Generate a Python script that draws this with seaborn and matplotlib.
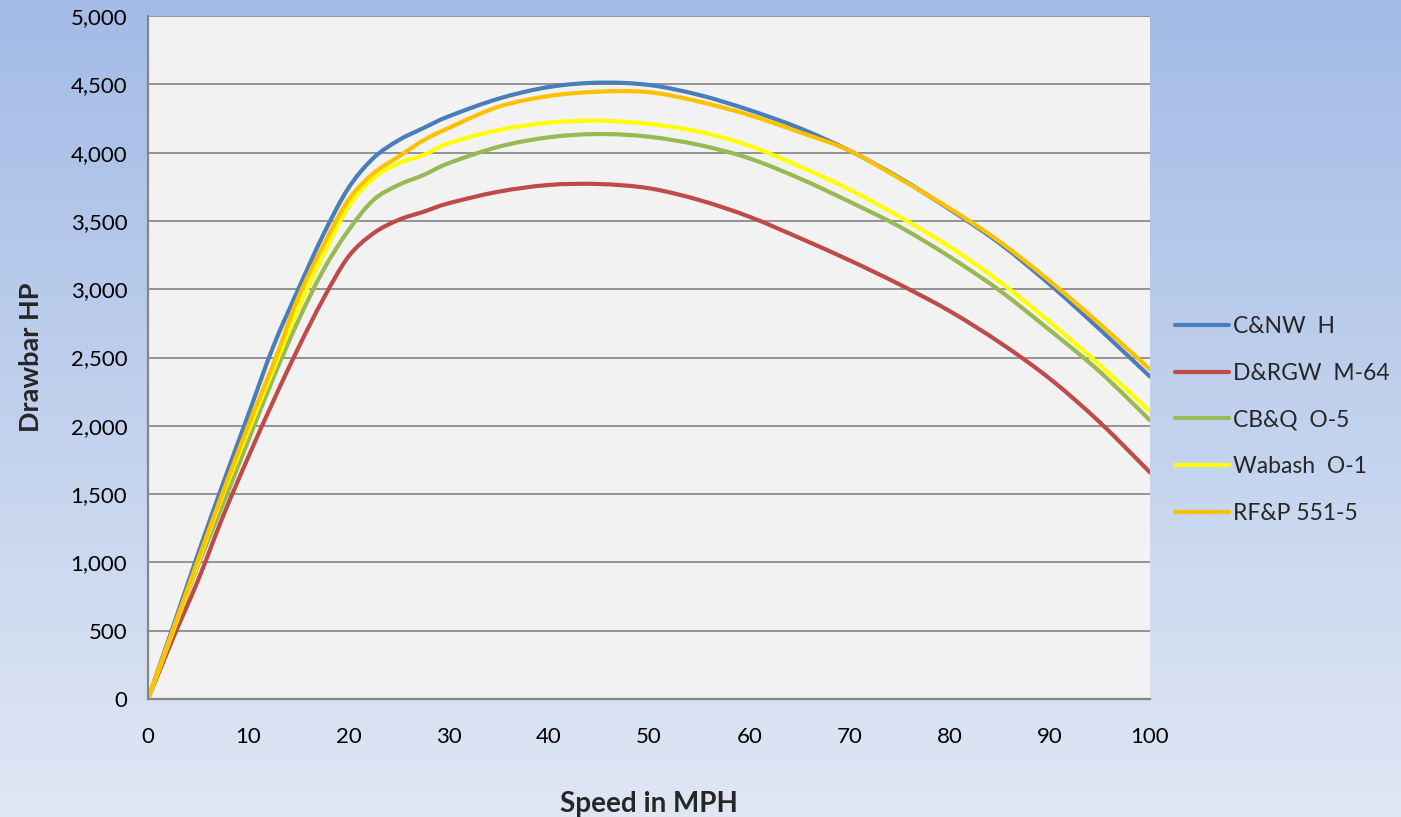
import numpy as np
import pandas as pd
import matplotlib
matplotlib.use("Agg")
import matplotlib.pyplot as plt
import matplotlib.ticker as mticker
from matplotlib.path import Path
from matplotlib.patches import PathPatch
import seaborn as sns

# ---- data ----
speed = [0, 2.5, 5, 7.5, 10, 12.5, 15, 17.5, 20, 22.5, 25, 27.5, 30, 35, 40,
         45, 50, 55, 60, 65, 70, 75, 80, 85, 90, 95, 100]

cnw_h = [0, 530, 1065, 1580, 2080, 2580, 3000, 3400, 3740, 3960, 4090, 4180, 4265,
         4395, 4480, 4512, 4495, 4422, 4312, 4180, 4015, 3815, 3585, 3335, 3035, 2705, 2360]
drgw_m64 = [0, 445, 870, 1340, 1770, 2180, 2570, 2930, 3238, 3409, 3507, 3567, 3629,
            3714, 3763, 3770, 3739, 3653, 3531, 3376, 3212, 3035, 2840, 2610, 2345, 2025, 1659]
cbq_o5 = [0, 490, 980, 1430, 1890, 2350, 2770, 3140, 3430, 3653, 3763, 3836, 3922,
          4043, 4112, 4136, 4116, 4056, 3958, 3812, 3641, 3458, 3238, 2990, 2700, 2395, 2040]
wabash_o1 = [0, 500, 1000, 1500, 1960, 2410, 2860, 3250, 3604, 3812, 3922, 3982, 4068,
             4165, 4219, 4234, 4210, 4153, 4050, 3900, 3730, 3531, 3311, 3055, 2760, 2445, 2105]
rfp_551 = [0, 510, 1020, 1520, 2000, 2450, 2940, 3320, 3653, 3848, 3970, 4090, 4180,
           4336, 4414, 4446, 4442, 4373, 4275, 4150, 4015, 3810, 3592, 3348, 3060, 2745, 2413]

series_names = ["C&NW  H", "D&RGW  M-64", "CB&Q  O-5", "Wabash  O-1", "RF&P 551-5"]
series_values = [cnw_h, drgw_m64, cbq_o5, wabash_o1, rfp_551]
colors = ["#4a7ebb", "#be4b48", "#98b954", "#ffff00", "#ffc000"]

y_ticks = list(range(0, 5001, 500))
x_ticks = list(range(0, 101, 10))

frames = []
for name, vals in zip(series_names, series_values):
    frames.append(pd.DataFrame({"Speed": speed, "HP": vals, "Series": name}))
df = pd.concat(frames, ignore_index=True)

# ---- style ----
sns.set_theme(style="white")
plt.rcParams["font.family"] = ["Lato", "DejaVu Sans"]

W, H = 1401, 817
fig = plt.figure(figsize=(W / 100, H / 100), dpi=100)

# gradient background
bg = fig.add_axes([0, 0, 1, 1], zorder=-10)
top = np.array([0xa3, 0xbb, 0xe6]) / 255.0
bot = np.array([0xdf, 0xe7, 0xf4]) / 255.0
t = np.linspace(0, 1, 256)[:, None]
grad = (top[None, :] * (1 - t) + bot[None, :] * t)[:, None, :]
bg.imshow(grad, aspect="auto", extent=[0, 1, 0, 1], origin="upper")
bg.set_axis_off()

left, right, topp, bottom = 148, 1150, 16, 699
ax = fig.add_axes([left / W, (H - bottom) / H, (right - left) / W, (bottom - topp) / H])
ax.set_facecolor("#f2f2f2")

LW = 3.0
sns.lineplot(data=df, x="Speed", y="HP", hue="Series", hue_order=series_names,
             palette=colors, linewidth=LW, ax=ax, sort=False, estimator=None)

ax.set_xlim(0, 100)
ax.set_ylim(0, 5000)
ax.set_xticks(x_ticks)
ax.set_yticks(y_ticks)
ax.yaxis.set_major_formatter(mticker.FuncFormatter(lambda v, p: f"{int(v):,}"))
ax.grid(axis="y", color="#8c8c8c", linewidth=1.3)
ax.grid(axis="x", visible=False)
ax.set_axisbelow(True)

for s in ["top", "right"]:
    ax.spines[s].set_visible(False)
for s in ["left", "bottom"]:
    ax.spines[s].set_color("#868686")
    ax.spines[s].set_linewidth(1.6)

ax.tick_params(axis="both", which="major", direction="out", length=6, width=1.3,
               color="#868686", labelsize=16, labelcolor="black")
ax.tick_params(axis="y", pad=9)
ax.tick_params(axis="x", pad=14)

ax.set_xlabel("Speed in MPH", fontsize=20, fontweight="bold", labelpad=32)
ax.set_ylabel("Drawbar HP", fontsize=19.5, fontweight="bold", labelpad=20)

leg = ax.legend(loc="center left", bbox_to_anchor=(1175 / W, (H - 420) / H),
                bbox_transform=fig.transFigure, frameon=False, fontsize=16.5,
                handlelength=2.35, handletextpad=0.2, labelspacing=1.12,
                borderpad=0, borderaxespad=0)
for line in leg.get_lines():
    line.set_linewidth(LW)

# Excel-style smoothed lines: replace each polyline with a Catmull-Rom Bezier path
for line in list(ax.get_lines()):
    xd = np.asarray(line.get_xdata(), float)
    yd = np.asarray(line.get_ydata(), float)
    if len(xd) < 3:
        continue
    pts = np.column_stack([xd, yd])
    n = len(pts)
    verts = [pts[0]]
    codes = [Path.MOVETO]
    for i in range(n - 1):
        p0 = pts[i - 1] if i > 0 else pts[i]
        p1 = pts[i]
        p2 = pts[i + 1]
        p3 = pts[i + 2] if i + 2 < n else pts[i + 1]
        c1 = p1 + (p2 - p0) / 6.0
        c2 = p2 - (p3 - p1) / 6.0
        verts.extend([c1, c2, p2])
        codes.extend([Path.CURVE4, Path.CURVE4, Path.CURVE4])
    patch = PathPatch(Path(verts, codes), facecolor="none", edgecolor=line.get_color(),
                      linewidth=LW, capstyle="round", joinstyle="round",
                      zorder=line.get_zorder())
    ax.add_patch(patch)
    line.set_visible(False)

fig.savefig("out.png", dpi=100)
